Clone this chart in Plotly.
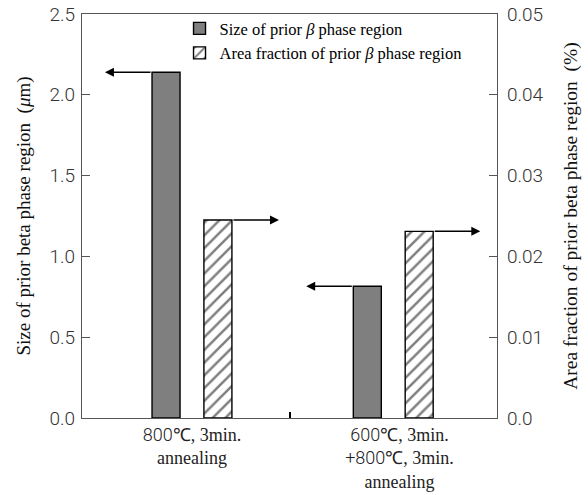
import plotly.graph_objects as go

# ---- data ----
categories = ["800℃, 3min.<br>annealing", "600℃, 3min.<br>+800℃, 3min.<br>annealing"]
group_pos = [0.03, 1.0]
label_pos = [0.03, 1.03]
size_um = [2.14, 0.815]          # left axis (μm)
area_frac = [0.0245, 0.0231]     # right axis (%)
y1_ticks = [0, 0.5, 1.0, 1.5, 2.0, 2.5]
y1_labels = ["0.0", "0.5", "1.0", "1.5", "2.0", "2.5"]
y2_ticks = [0, 0.01, 0.02, 0.03, 0.04, 0.05]
y2_labels = ["0.0", "0.01", "0.02", "0.03", "0.04", "0.05"]

bar_w = 0.135
shift = 0.125
arrow_len = 0.227

SANS = "Roboto"
SERIF = "Liberation Serif"

tick_text = []
for c in categories:
    html = []
    for ln in c.split("<br>"):
        if "℃" in ln:
            num, rest = ln.split("℃", 1)
            html.append(f'<span style="font-family:{SANS};font-weight:300">{num}℃</span>{rest}')
        else:
            html.append(ln)
    tick_text.append("<br>".join(html))

gray_x = [g - shift for g in group_pos]
hatch_x = [g + shift for g in group_pos]

fig = go.Figure()
fig.add_trace(go.Bar(
    x=gray_x, y=size_um, width=bar_w,
    name="Size of prior <i>β</i> phase region",
    marker=dict(color="#7f7f7f", line=dict(color="black", width=1.4)),
    yaxis="y",
))
fig.add_trace(go.Bar(
    x=hatch_x, y=area_frac, width=bar_w,
    name="Area fraction of prior <i>β</i> phase region",
    marker=dict(color="white", line=dict(color="black", width=1.4),
                pattern=dict(shape="/", fgcolor="black", bgcolor="white",
                             size=9, solidity=0.28)),
    yaxis="y2",
))

annotations = []
for gx, v in zip(gray_x, size_um):
    left = gx - bar_w / 2
    annotations.append(dict(x=left - arrow_len, y=v, xref="x", yref="y",
                            ax=left, ay=v, axref="x", ayref="y",
                            showarrow=True, arrowhead=2, arrowsize=1.2,
                            arrowwidth=1.5, arrowcolor="black", text=""))
for hx, v in zip(hatch_x, area_frac):
    right = hx + bar_w / 2
    annotations.append(dict(x=right + arrow_len, y=v, xref="x", yref="y2",
                            ax=right, ay=v, axref="x", ayref="y2",
                            showarrow=True, arrowhead=2, arrowsize=1.2,
                            arrowwidth=1.5, arrowcolor="black", text=""))

tickfont = dict(family=SANS, size=19, color="#333333", weight=300)
fig.update_layout(
    width=588, height=495,
    margin=dict(l=82, r=91, t=14, b=77, autoexpand=False),
    paper_bgcolor="white", plot_bgcolor="white",
    barmode="overlay",
    showlegend=True,
    legend=dict(x=0.235, y=1.007, xanchor="left", yanchor="top",
                font=dict(family=SERIF, size=16.5, color="black"),
                bgcolor="rgba(0,0,0,0)", tracegroupgap=0,
                itemwidth=30),
    xaxis=dict(range=[-0.5, 1.5], tickvals=label_pos, ticktext=tick_text,
               ticks="", showline=True, linecolor="#555555", linewidth=1.2,
               mirror=True, showgrid=False, zeroline=False, automargin=False,
               tickfont=dict(family=SERIF, size=18, color="#222222"),
               minor=dict(tickvals=[0.5], ticks="inside", ticklen=6,
                          tickcolor="black", tickwidth=2)),
    yaxis=dict(range=[0, 2.5], tickvals=y1_ticks, ticktext=y1_labels,
               ticks="inside", ticklen=8, tickcolor="#555555",
               showline=True, linecolor="#555555", linewidth=1.2,
               showgrid=False, zeroline=False, tickfont=tickfont,
               ticklabelstandoff=2, automargin=False,
               title=dict(text="Size of prior beta phase region  (<i>μ</i>m)",
                          font=dict(family=SERIF, size=19, color="#111111"),
                          standoff=13)),
    yaxis2=dict(range=[0, 0.05], tickvals=y2_ticks, ticktext=y2_labels,
                overlaying="y", side="right",
                ticks="inside", ticklen=8, tickcolor="#555555",
                showline=True, linecolor="#555555", linewidth=1.2,
                showgrid=False, zeroline=False, tickfont=tickfont,
                ticklabelstandoff=5, automargin=False,
                title=dict(text="Area fraction of prior beta phase region  (%)",
                           font=dict(family=SERIF, size=19.5, color="#111111"),
                           standoff=20)),
    annotations=annotations,
)

fig.write_html("out.html")
